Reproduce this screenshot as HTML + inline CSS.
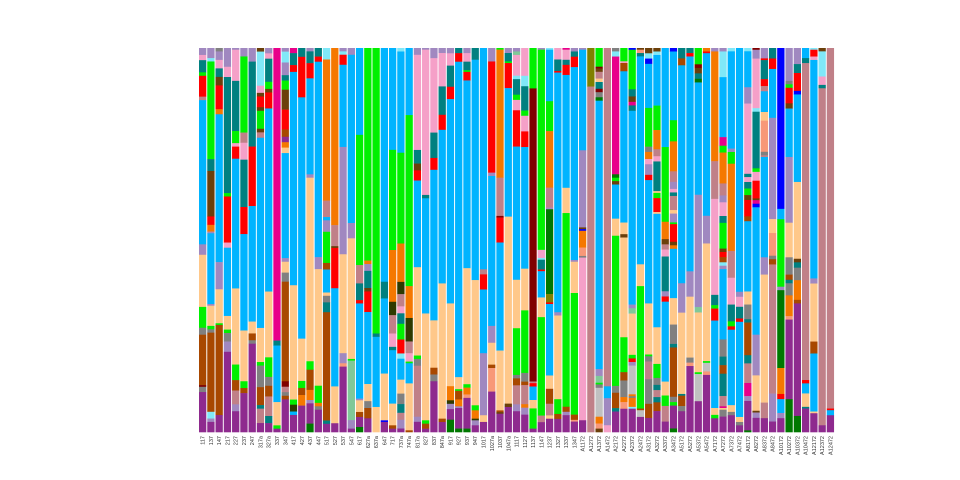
<!DOCTYPE html>
<html><head><meta charset="utf-8"><style>html,body{margin:0;padding:0;background:#fff;}svg{display:block}</style></head>
<body>
<div id="wrap"></div>
<script>
(function(){
var C={P:"#8e2a8e",B:"#00b4ff",K:"#ffc88a",O:"#f57800",G:"#00f000",D:"#007800",R:"#ff0000",T:"#008080",W:"#a84800",M:"#6b3f0a",L:"#a088c0",N:"#f5a0c8",S:"#c08088",C:"#80e8f8",Y:"#808080",Z:"#800000",Q:"#e8008a",E:"#808000",V:"#0000ff",X:"#c0c0c0",A:"#f89878",H:"#80c898",I:"#2e3a00"};
var bars=[
"L20 N15 T35 G10 R60 S10 B415 L30 K150 G60 Y20 W145 Z5 Y15 P115",
"L30 C10 G290 T35 M135 R25 O20 L5 B210 L5 K60 G10 Y10 W235 C20 L10 P30",
"Y10 L25 N25 T25 M25 R70 O15 B435 L80 K100 G5 W265 P50",
"L55 N30 T340 G10 R135 N15 B200 K40 G10 Y25 L30 P235",
"L5 N90 T145 G35 N10 R35 B375 K220 G45 W30 S40 L20 P60",
"L25 G225 S30 N50 T140 R80 B285 K150 G20 W15 P115",
"L40 T250 R175 B340 K35 W20 Y10 P260",
"M10 C95 N20 M10 R30 M10 G50 M10 S15 B530 K95 G10 Y60 W50 T10 S40 P25",
"L15 N15 T65 G20 M10 R45 B515 K185 G55 Y25 W30 S55 T20 P25",
"Q880 T15 B170 K70 G10 P10",
"L10 C30 L35 T15 G25 M55 R55 W20 P15 O15 K15 B290 L10 K30 Y25 W275 Z15 S15 Y10 W10 P90",
"Q15 T35 R20 B625 K335 G15 I20 B10 P50",
"T25 R115 B685 K120 G20 W20 O30 P75",
"L10 T35 R45 B285 L10 K545 G25 W60 O30 L10 P60 D25",
"T25 R15 B570 L35 K340 G50 O10 Y10 P65",
"C35 O430 S50 B10 L35 G95 W20 B70 K10 Y20 T30 W330 T10 P25",
"O505 S60 M5 R115 B280 K105 P25",
"L10 C10 R30 B245 L320 K295 L30 A10 P195",
"L20 B495 L45 K355 G5 H175 L25 P10",
"B260 G390 S55 T50 R10 B285 L5 K35 W15 P30 D15",
"G620 O10 L20 T50 M10 R60 B210 K50 Y20 W30 P40",
"G855 T10 B210 K75",
"B700 T50 B225 K140 V5 P30",
"B305 G300 O155 I40 S55 N40 T10 B160 K65 W10 P10",
"C10 B290 G260 O110 I35 S35 N20 T30 G45 R40 C15 B60 K40 Y30 T25 S20 L25 P10",
"B200 G510 O95 I70 S35 N25 G5 B60 K140 W5",
"L20 N280 T40 M20 R30 B255 K260 G10 Y20 S150 L15 P30",
"L5 N435 T10 B345 K320 G10 W15 P10",
"L30 N220 T75 R35 B445 K140 W20 Y20 P150",
"L15 N100 T85 R45 B460 K405 W10 P30",
"L15 N35 T60 R35 B580 K235 O40 I10 L15 P30 D35",
"T15 R25 B920 K35 G5 W25 O20 L5 P60 D10",
"L15 N25 T25 G5 R25 B550 K340 G10 O20 A10 P90 D10",
"T35 B660 K375 G15 O25 I5 L15 P20",
"B660 S15 R45 B190 L185 K20 P30",
"L40 R330 L10 B445 L50 K65 W10 A70 P120",
"G5 O385 S115 Z5 R75 B325 K180 W5 M5 P55",
"L15 T25 G5 R75 B385 K560 M10 P75",
"L10 H10 N60 C10 T45 G15 N30 R105 B385 K140 G135 Y10 W20 S55 L20 P60",
"N80 C30 T70 G15 N45 R45 B350 K120 G180 Y25 W10 S55 O10 L20 P50",
"G120 Z870 S5 R10 B40 K25 G60 P10",
"L5 G610 N25 C5 T30 R5 B80 K60 G300 S20 P30",
"C5 B155 G90 O170 S60 L5 D255 E25 R5 B215 K40 W45 S35 K10 P40",
"N35 T35 R5 B730 L10 K255 G45 W15 P40",
"Q5 N30 T15 R30 B335 K75 G575 W15 L10 P50",
"L10 T15 R30 B555 L5 K90 G350 W15 A5 P30",
"L5 B300 L230 M5 V5 O50 A25 Y5 N485 P35",
"E115 S1030",
"G55 Z5 M10 S20 K10 T20 Z10 Y15 D10 B790 L20 H20 G5 Y10 X85 O20 A15 M10",
"S1000 B35 L80 N20",
"Y10 C15 Q345 D10 G10 M10 B100 K50 G440 Y20 W45 T10 P60",
"G40 N5 W25 B455 K35 M10 K300 G105 W25 Y50 O15 A20 P70",
"V5 G110 T20 M15 Q10 T15 B540 L10 H15 K115 G10 R10 L10 X80 O5 Y5 O25 C5 P65",
"M5 A10 T10 B620 K65 G365 W5 X20 P45",
"M15 C15 V15 B125 G110 Y15 O20 N15 L30 R15 B350 K145 G5 Y15 S50 Y70 W40 P40",
"M10 C10 B145 G70 O55 S20 N15 T85 K5 G15 R40 K5 B325 K105 G40 Y20 T15 S20 T15 W25 P60",
"B285 G215 O50 M15 S15 N20 T100 L15 R15 B230 K40 G30 S45 P30",
"V10 B195 G60 O85 S30 L20 N10 T10 S40 K10 L25 G5 R50 M10 O10 B140 K75 Y55 T10 W140 Y15 G10 P65 D10",
"T30 W20 B630 L85 K235 T5 W30 Y15 P60",
"T15 R10 B635 L75 K180 Y15 A10 P195",
"G45 Z10 M15 T15 D10 B310 L310 H15 K165 G5 X75 P85",
"O10 R5 B470 L80 K340 G5 X25 A10 P165",
"L10 O320 S110 N280 T30 G10 R35 B255 K20 G10 P40",
"L10 C75 B175 Q25 G20 O90 S35 L20 N40 T20 G75 M10 R15 W15 C10 L10 B205 Y50 T25 W25 T65 S30 Q5 K5 Y20 P45",
"C10 B290 L10 G35 O260 S80 N80 T50 G15 R10 B225 K20 Y10 P50",
"B730 L15 N30 T35 R10 B285 K15 Y10 P20",
"C10 B110 L50 N215 T10 N15 T20 G20 M15 R50 W15 B215 K40 Y45 T10 W100 T25 S60 Q40 L15 P90 D5",
"Z5 L25 N140 C10 T160 G10 N25 R50 M5 Q10 V10 B360 L115 K100 M5 L15 P40",
"L30 R5 T55 R20 S15 B60 K25 A90 Y10 S5 B290 L50 K370 S45 P40",
"T30 R30 B140 L290 K40 A65 Y10 W15 S370 L80 P30",
"V465 B30 G195 L10 D225 O75 R15 B40 L15 P40",
"L95 Y10 G10 R45 M15 B140 L190 K100 Y50 W15 T10 Y35 O60 A10 P230 D95",
"L45 T25 R50 V10 B245 K215 M10 T15 Y35 O55 W10 P315 D45",
"B30 T15 S945 R10 B30 K40 T5 P70",
"C5 R20 N10 B640 L15 K170 W35 B170 K5 P55",
"M10 C75 N25 T10 S1005 P20",
"S1075 R5 B15 P50"];
var labels="117 137 147 217 227 237 247 317a 327a 337 347 417 427 437 447 517 527 537 547 617 627a 637a 647 717 737a 747a 817a 827 837 847a 917 927 937 947 1017 1027a 1037 1047a 1117 1127 1137 1147 1237 1327 1337 1347 A1172 A1272 A1372 A1472 A2172 A2272 A2372 A2472 A3172 A3272 A3372 A3472 A5172 A5272 A5372 A5472 A7172 A7272 A7372 A7472 A8172 A8272 A8372 A8472 A10172 A10272 A10372 A10472 A12172 A12372 A12472".split(" ");
var h="",Y0=48,H=384,x0=199,step=8.26,w=7.3;
for(var i=0;i<bars.length;i++){
  var segs=bars[i].split(" ").map(function(s){return [s.charAt(0),parseFloat(s.slice(1))];});
  var sum=0;for(var j=0;j<segs.length;j++)sum+=segs[j][1];
  var y=Y0,x=(x0+i*step).toFixed(2);
  for(var j=0;j<segs.length;j++){var hh=segs[j][1]/sum*H;h+='<rect x="'+x+'" y="'+y.toFixed(2)+'" width="'+w+'" height="'+(hh+0.3).toFixed(2)+'" fill="'+C[segs[j][0]]+'"/>';y+=hh;}
  var lx=x0+i*step+w/2+2;
  h+='<text transform="translate('+lx.toFixed(2)+',436) rotate(-90)" text-anchor="end" font-family="Liberation Sans, sans-serif" font-size="5.5" fill="#333">'+labels[i]+'</text>';
}
document.getElementById("wrap").innerHTML='<svg width="960" height="480" xmlns="http://www.w3.org/2000/svg">'+h+'</svg>';
})();
</script>
</body></html>
